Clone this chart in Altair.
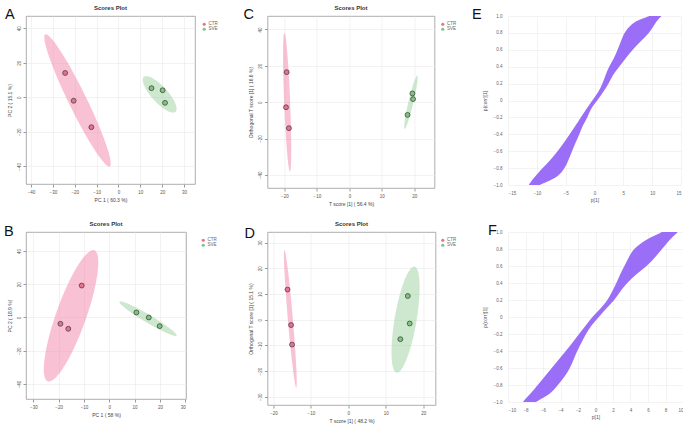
import altair as alt
import pandas as pd
import numpy as np

FONT = "Liberation Sans"
groups = ["CTR", "SVE"]
point_colors = ["#E5738D", "#7BC67B"]
ellipse_colors = ["#F48FB1", "#A5D6A7"]
splot_color = "#9262F6"
panel_title = "Scores Plot"

# ---------------- score plots: sample coordinates ----------------
a_x = [-24.4, -20.5, -12.4, 15.1, 20.2, 21.3]
a_y = [14.1, -2.0, -17.3, 5.3, 4.1, -3.2]
b_x = [-10.9, -19.3, -16.2, 10.7, 15.6, 19.9]
b_y = [19.2, -3.8, -6.8, 3.0, 0.0, -5.2]
c_x = [-19.3, -19.5, -18.6, 19.4, 19.6, 17.9]
c_y = [16.5, -2.8, -14.3, 4.8, 1.7, -7.0]
d_x = [-16.25, -15.3, -15.05, 15.9, 16.4, 13.9]
d_y = [11.7, -2.1, -9.7, 9.2, -1.5, -7.6]
sample_group = ["CTR", "CTR", "CTR", "SVE", "SVE", "SVE"]

# confidence ellipses: centre x, centre y, major semi-axis dx, dy, minor half width (px)
a_ell = [[-18.75, -1.75, 14.75, -38.25, 9.0], [18.85, 1.7, -7.25, 10.1, 8.0]]
b_ell = [[-15.1, 1.0, 9.2, 39.4, 15.0], [15.3, -0.7, -11.3, 10.2, 4.0]]
c_ell = [[-19.15, 0.0, -0.85, 38.1, 3.0], [18.95, 0.0, 1.95, 14.7, 2.5]]
d_ell = [[-15.5, 0.3, -1.58, 26.8, 2.5], [15.3, 0.0, 2.4, 20.65, 11.0]]

# axis domains and ticks
a_xdom, a_ydom = [-42.3, 35.0], [-50.2, 47.1]
b_xdom, b_ydom = [-32.9, 30.3], [-49.0, 51.4]
c_xdom, c_ydom = [-25.2, 26.2], [-47.2, 47.4]
d_xdom, d_ydom = [-21.6, 23.3], [-33.2, 34.1]
a_xt, a_yt = [-40, -30, -20, -10, 0, 10, 20, 30], [-40, -20, 0, 20, 40]
b_xt, b_yt = [-30, -20, -10, 0, 10, 20, 30], [-40, -20, 0, 20, 40]
c_xt, c_yt = [-20, -10, 0, 10, 20], [-40, -20, 0, 20, 40]
d_xt, d_yt = [-20, -10, 0, 10, 20], [-30, -20, -10, 0, 10, 20, 30]

# ---------------- S-plots: envelope of the point cloud ----------------
s_levels = [-1.0, -0.95, -0.9, -0.8, -0.7, -0.6, -0.5, -0.4, -0.3, -0.2, -0.1, 0.0,
            0.1, 0.2, 0.3, 0.4, 0.5, 0.6, 0.7, 0.8, 0.9, 0.95, 1.0]
e_left = [-11.4, -10.9, -10.3, -9.0, -7.6, -6.4, -5.3, -4.3, -3.3, -2.4, -1.4, -0.4,
          0.7, 1.4, 1.9, 2.5, 3.4, 4.0, 4.6, 5.1, 6.3, 7.5, 9.5]
e_right = [-9.5, -7.8, -6.3, -5.1, -4.5, -3.9, -3.3, -2.6, -2.1, -1.2, -0.7, 0.5,
           1.5, 2.5, 3.1, 4.3, 5.4, 6.6, 8.0, 9.5, 10.4, 10.9, 11.6]
f_left = [-8.3, -7.9, -7.4, -6.6, -5.8, -5.0, -4.2, -3.4, -2.6, -1.9, -1.1, -0.4,
          0.6, 1.4, 1.9, 2.4, 2.8, 3.3, 3.8, 4.3, 5.6, 6.6, 7.6]
f_right = [-6.8, -6.0, -5.1, -4.3, -3.5, -2.9, -2.5, -2.1, -1.6, -1.1, -0.5, 0.4,
           1.2, 2.2, 2.8, 3.6, 4.6, 5.9, 6.8, 7.6, 8.4, 8.9, 9.4]
s_yticks = [-1.0, -0.8, -0.6, -0.4, -0.2, 0.0, 0.2, 0.4, 0.6, 0.8, 1.0]
e_xt = [-15, -10, -5, 0, 5, 10, 15]
f_xt = [-10, -8, -6, -4, -2, 0, 2, 4, 6, 8, 10]


def chords(cx, cy, ux, uy, bpx, sx, sy, n=80):
    upx, upy = ux * sx, uy * sy
    L = np.hypot(upx, upy)
    vx, vy = (-upy / L * bpx) / sx, (upx / L * bpx) / sy
    R = np.hypot(uy, vy)
    phi = np.arctan2(vy, uy)
    ys = cy + R * np.cos(np.linspace(np.pi, 0, n))
    ac = np.arccos(np.clip((ys - cy) / R, -1, 1))
    xa = cx + ux * np.cos(phi + ac) + vx * np.sin(phi + ac)
    xb = cx + ux * np.cos(phi - ac) + vx * np.sin(phi - ac)
    return pd.DataFrame({"y": ys, "x": np.minimum(xa, xb), "x2": np.maximum(xa, xb)})


def axis_style(title, values, rot=False):
    kw = dict(values=values, title=title, titleFontSize=5, titleFontWeight="normal",
              titleColor="#444", labelFontSize=4.5, labelColor="#555", tickSize=3,
              tickColor="#999", domain=False, gridColor="#e9e9e9", gridWidth=0.6,
              labelPadding=2, titlePadding=4, labelFont=FONT, titleFont=FONT)
    if rot:
        kw["labelAngle"] = -90
    return alt.Axis(**kw)


def text_layer(txt, dx, dy, size, weight="normal", align="left", color="#111"):
    return alt.Chart(pd.DataFrame({"t": [txt]})).mark_text(
        fontSize=size, font=FONT, align=align, baseline="alphabetic", color=color,
        fontWeight=weight
    ).encode(x=alt.value(dx), y=alt.value(dy), text="t:N")


def scores_panel(px, py, ells, xdom, ydom, xt, yt, xtitle, ytitle, w, h,
                 letter, ldx, ldy, legx):
    sx = w / (xdom[1] - xdom[0])
    sy = h / (ydom[1] - ydom[0])
    xs = alt.Scale(domain=xdom, nice=False, zero=False)
    ys = alt.Scale(domain=ydom, nice=False, zero=False)
    xa = axis_style(xtitle, xt)
    ya = axis_style(ytitle, yt, rot=True)
    layers = []
    for e, col in zip(ells, ellipse_colors):
        df = chords(*e, sx, sy)
        layers.append(alt.Chart(df).mark_area(orient="horizontal", color=col, opacity=0.55).encode(
            y=alt.Y("y:Q", scale=ys, axis=ya),
            x=alt.X("x:Q", scale=xs, axis=xa),
            x2="x2:Q"))
    pts = pd.DataFrame({"x": px, "y": py, "g": sample_group})
    layers.append(alt.Chart(pts).mark_circle(size=24, opacity=1, stroke="#333", strokeWidth=0.7).encode(
        x=alt.X("x:Q", scale=xs, axis=xa),
        y=alt.Y("y:Q", scale=ys, axis=ya),
        color=alt.Color("g:N", scale=alt.Scale(domain=groups, range=point_colors),
                        legend=alt.Legend(orient="none", legendX=legx, legendY=6, title=None,
                                          labelFontSize=4.5, labelColor="#666", labelFont=FONT,
                                          symbolSize=10, symbolStrokeWidth=0, rowPadding=0,
                                          labelOffset=2, symbolType="circle"))))
    layers.append(text_layer(letter, ldx, ldy, 14.5))
    layers.append(text_layer(panel_title, w / 2, -6, 6, weight="bold", align="center", color="#333"))
    return alt.layer(*layers).properties(
        width=w, height=h,
        view=alt.ViewBackground(stroke="#999", strokeWidth=0.8))


def s_panel(left, right, xdom, xt, w, h, letter, ldx, ldy):
    df = pd.DataFrame({"y": s_levels, "x": left, "x2": right})
    xa = alt.Axis(values=xt, title="p[1]", titleFontSize=5, titleFontWeight="normal",
                  titleColor="#555", labelFontSize=4.5, labelColor="#666", ticks=False,
                  domain=False, gridColor="#ebebeb", gridWidth=0.6, labelPadding=5,
                  titlePadding=3, labelFont=FONT, titleFont=FONT)
    ya = alt.Axis(values=s_yticks, title="p(corr)[1]", titleFontSize=5, titleFontWeight="normal",
                  titleColor="#555", labelFontSize=4.5, labelColor="#666", ticks=False,
                  domain=False, gridColor="#ebebeb", gridWidth=0.6, labelPadding=6,
                  titlePadding=6, labelFont=FONT, titleFont=FONT,
                  labelExpr="datum.value == 0 ? '0' : format(datum.value, '.1f')")
    area = alt.Chart(df).mark_area(orient="horizontal", color=splot_color, opacity=0.92,
                                   interpolate="basis").encode(
        y=alt.Y("y:Q", scale=alt.Scale(domain=[-1, 1], nice=False, zero=False), axis=ya),
        x=alt.X("x:Q", scale=alt.Scale(domain=xdom, nice=False, zero=False), axis=xa),
        x2="x2:Q")
    return alt.layer(area, text_layer(letter, ldx, ldy, 14.5)).properties(
        width=w, height=h, view=alt.ViewBackground(stroke=None))


A = scores_panel(a_x, a_y, a_ell, a_xdom, a_ydom, a_xt, a_yt, "PC 1 ( 60.3 %)", "PC 2 ( 15.1 %)",
                 169, 168, "A", -21, 3, 176)
B = scores_panel(b_x, b_y, b_ell, b_xdom, b_ydom, b_xt, b_yt, "PC 1 ( 58 %)", "PC 2 ( 18.9 %)",
                 160, 167, "B", -22, 4, 175)
C = scores_panel(c_x, c_y, c_ell, c_xdom, c_ydom, c_xt, c_yt, "T score [1] ( 56.4 %)",
                 "Orthogonal T score [1] ( 16.6 %)", 167, 172, "C", -24, 3, 173)
D = scores_panel(d_x, d_y, d_ell, d_xdom, d_ydom, d_xt, d_yt, "T score [1] ( 48.2 %)",
                 "Orthogonal T score [1] ( 15.1 %)", 168, 173, "D", -23, 6, 173)
E = s_panel(e_left, e_right, [-15, 15], e_xt, 173, 169, "E", -36, 3)
F = s_panel(f_left, f_right, [-10, 10], f_xt, 175, 170, "F", -20, 3)

chart = alt.concat(A, C, E, B, D, F, columns=3, bounds="flush", align="each",
                   spacing={"row": 44, "column": 72.5}).resolve_scale(
    color="independent").resolve_legend(color="independent").properties(
    padding={"left": 3, "top": 4, "right": 0, "bottom": 0}
).configure(font=FONT).configure_view(stroke=None)

chart.save("out.html", embed_options={"renderer": "svg", "actions": False})
